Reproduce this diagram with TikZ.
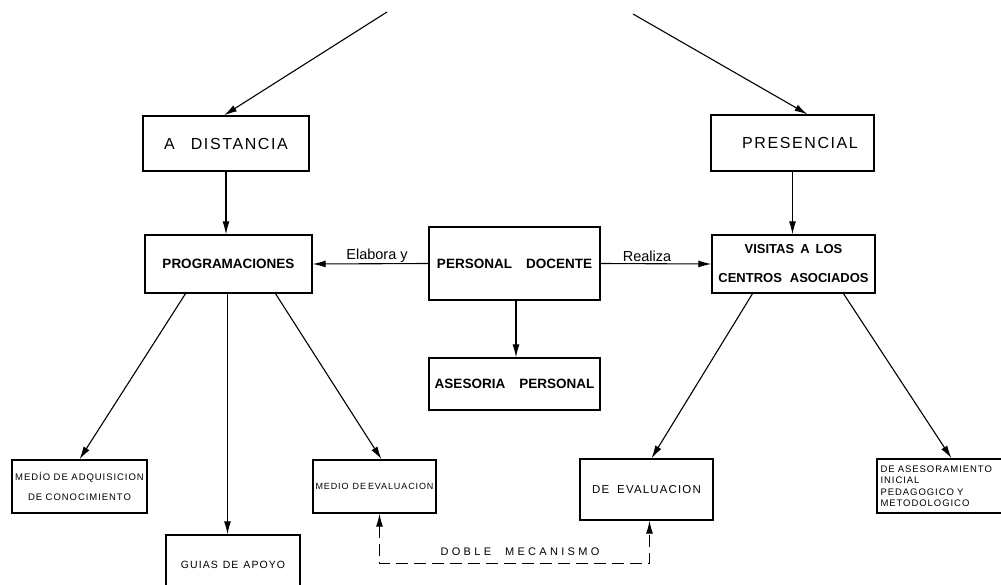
\documentclass[tikz,border=0pt]{standalone}
\usepackage{fontspec}
\setmainfont{Liberation Sans}
\newfontfamily\typed[LetterSpace=10]{Liberation Sans}
\newfontfamily\wide[LetterSpace=30]{Liberation Sans}
\usetikzlibrary{arrows.meta}

\tikzset{
  scheme/.style={
    x=1pt, y=-1pt,
    every node/.style={inner sep=2pt},
    box/.style={
        draw,
        line width=1.3pt,
        align=center,
    },
    big/.style={font=\typed\fontsize{16}{18}\selectfont},
    bold/.style={font=\bfseries\fontsize{13.5}{15}\selectfont},
    small/.style={font=\typed\fontsize{9.5}{20}\selectfont},
    hand/.style={font=\fontsize{14.5}{16}\selectfont, inner sep=1pt},
    arr/.style={-{Latex[length=13pt,width=7pt]}, line width=1.1pt},
    link/.style={
        {Latex[length=13pt,width=7pt]}-{Latex[length=13pt,width=7pt]},
        line width=1.1pt,
        dash pattern=on 12pt off 6pt,
    }
  }
}

\begin{document}
\begin{tikzpicture}[scheme]
        \useasboundingbox (0,0) rectangle (1001,585);

        \node[box, big, minimum width=166pt, minimum height=55pt] (dist) at (226,143.5) {A\hspace{16pt}DISTANCIA};
        \node[box, big, minimum width=163pt, minimum height=56pt] (pres) at (792.5,143) {\hspace*{15pt}PRESENCIAL};

        \node[box, bold, minimum width=167pt, minimum height=58pt] (prog) at (228.5,264) {PROGRAMACIONES};
        \node[box, bold, minimum width=171pt, minimum height=73pt] (doc) at (514.5,263.5) {PERSONAL\hspace{14pt}DOCENTE};
        \node[box, bold, minimum width=163pt, minimum height=58pt, font=\bfseries\fontsize{13}{29}\selectfont] (vis) at (793.5,264) {VISITAS\hspace{6pt}A\hspace{6pt}LOS\\CENTROS\hspace{8pt}ASOCIADOS};
        \node[box, bold, minimum width=171pt, minimum height=52pt] (ases) at (514.5,384) {ASESORIA\hspace{14pt}PERSONAL};

        \node[box, small, minimum width=135pt, minimum height=53pt] (adq) at (79.5,486.5) {MEDÍO DE ADQUISICION\\DE CONOCIMIENTO};
        \node[box, small, minimum width=134pt, minimum height=60pt, font=\typed\fontsize{10.5}{12}\selectfont] (guias) at (233,565) {GUIAS\hspace{5pt}DE\hspace{5pt}APOYO};
        \node[box, small, minimum width=123pt, minimum height=53pt, inner xsep=0.5pt, font=\typed\fontsize{9}{11}\selectfont] (meval) at (374.5,486.5) {MEDIO\hspace{4pt}DE\hspace{2pt}EVALUACION};
        \node[box, small, minimum width=133pt, minimum height=61pt, font=\typed\fontsize{11.5}{13}\selectfont] (deval) at (646.5,489.5) {DE\hspace{8pt}EVALUACION};
        \node[box, small, minimum width=133pt, minimum height=54pt, text width=126pt, align=left, inner ysep=1pt, font=\typed\fontsize{9.5}{11.5}\selectfont] (aseso) at (943.5,486) {DE ASESORAMIENTO\\INICIAL\\PEDAGOGICO Y\\METODOLOGICO};

        \node[hand] (elab) at (377,256) {Elabora y};
        \node[hand] (real) at (647,256) {Realiza};
        \node[font=\wide\fontsize{11}{13}\selectfont] (meca) at (520,552) {DOBLE\hspace{14pt}MECANISMO};

        \coordinate (srcl) at (387,12);
        \coordinate (srcr) at (633,14);

        \draw[arr] (srcl) -- ([xshift=-2pt]dist.north);
        \draw[arr] (srcr) -- ([xshift=15pt]pres.north);
        \draw[arr] (dist.south) -- (dist.south |- prog.north);
        \draw[arr] (pres.south) -- (pres.south |- vis.north);
        \draw[arr] (doc.west) -- (prog.east);
        \draw[arr] (doc.east) -- (vis.west);
        \draw[arr] ([xshift=1.5pt]doc.south) -- ([xshift=1.5pt]ases.north);
        \draw[arr] ([xshift=-43pt]prog.south) -- (adq.north);
        \draw[arr] ([xshift=-1pt]prog.south) -- ([xshift=-1pt]prog.south |- guias.north);
        \draw[arr] ([xshift=47pt]prog.south) -- ([xshift=7pt]meval.north);
        \draw[arr] ([xshift=-41pt]vis.south) -- ([xshift=5pt]deval.north);
        \draw[arr] ([xshift=50pt]vis.south) -- ([xshift=8pt]aseso.north);
        \draw[link] ([xshift=5pt]meval.south) -- ++(0,50) -| ([xshift=3pt]deval.south);
      \end{tikzpicture}
\end{document}
